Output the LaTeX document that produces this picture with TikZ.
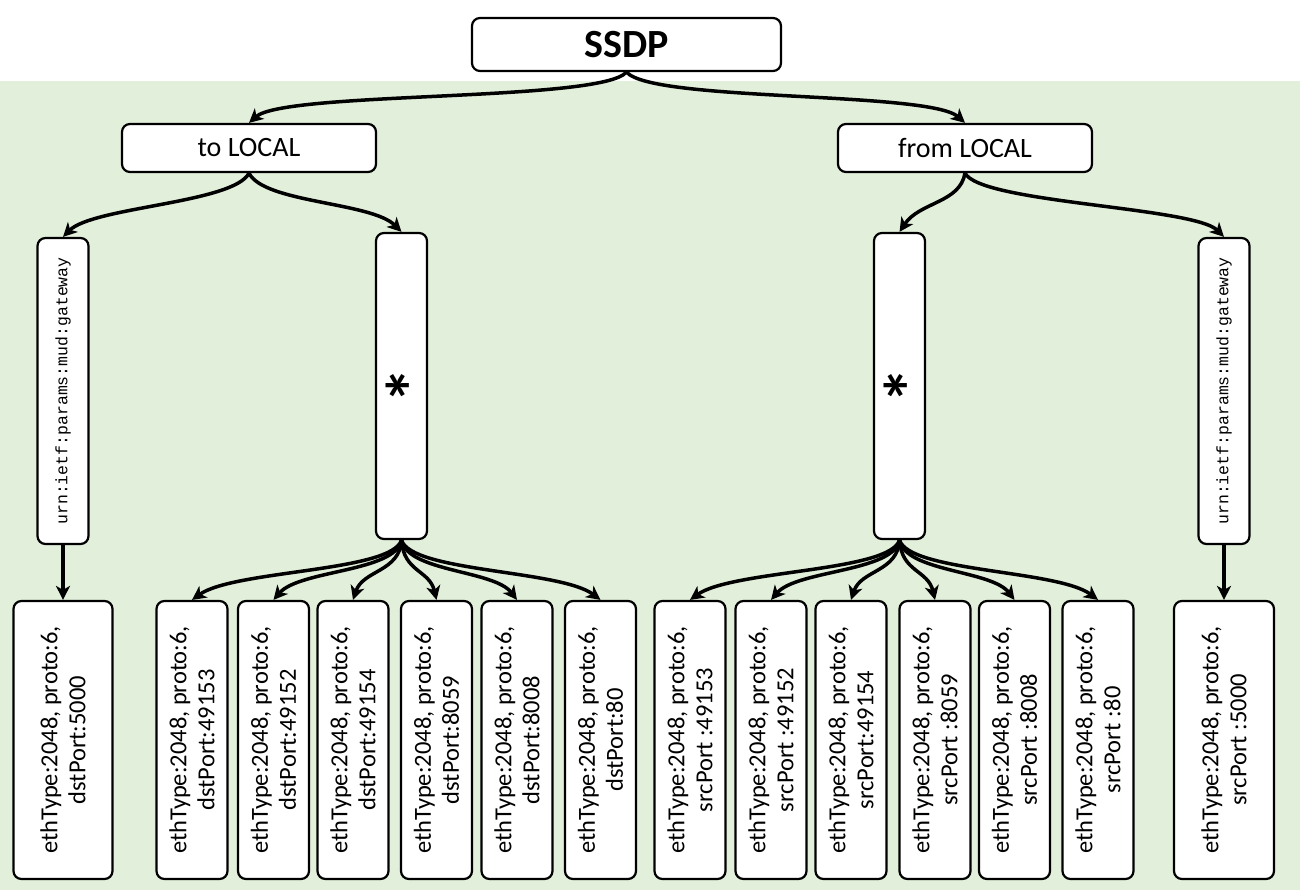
\documentclass[tikz,border=0pt]{standalone}
\usepackage{fontspec}
\setmainfont{Carlito}
\newfontfamily\gwfont{Liberation Mono}
\usetikzlibrary{arrows.meta}
\definecolor{bggreen}{RGB}{226,239,218}
\newcommand{\gwlabel}{{\fontsize{16.5}{18}\gwfont urn:ietf:params:mud:gateway}}
\newcommand{\starlabel}{\raisebox{-20pt}[32pt][0pt]{*}}
\begin{document}
\begin{tikzpicture}[x=1pt,y=-1pt,
  box/.style={draw=black, line width=2.2pt, fill=white, rounded corners=8pt, inner sep=2pt, align=center},
  leaf/.style={box, rotate=90, minimum width=278pt, minimum height=71pt, font=\fontsize{24.5}{28}\selectfont},
  tall/.style={box, rotate=90, minimum width=306pt, minimum height=51pt},
  startext/.style={font=\fontsize{72}{74}\selectfont\bfseries},
  arr/.style={line width=3.5pt, -{Stealth[length=14pt,width=14pt,inset=4pt]}}
]
\useasboundingbox (0,0) rectangle (1300,890);
\fill[bggreen] (0,81) rectangle (1300,890);

\node[box, minimum width=309pt, minimum height=53pt, font=\fontsize{40}{44}\selectfont\bfseries] (ssdp) at (626.5,44.5) {SSDP};
\node[box, minimum width=254pt, minimum height=48pt, font=\fontsize{28}{32}\selectfont] (toL) at (249,148) {to LOCAL};
\node[box, minimum width=254pt, minimum height=48pt, font=\fontsize{28}{32}\selectfont] (fromL) at (965,148) {from LOCAL};

\node[tall] (gwL) at (63,391) {\gwlabel};
\node[tall, startext] (starL) at (401.5,386) {\starlabel};
\node[tall, startext] (starR) at (899.5,386) {\starlabel};
\node[tall] (gwR) at (1224,391) {\gwlabel};

\node[leaf, minimum height=99pt] (l0) at (63,740) {ethType:2048, proto:6,\\dstPort:5000};
\node[leaf] (c1) at (192,740) {ethType:2048, proto:6,\\dstPort:49153};
\node[leaf] (c2) at (273.5,740) {ethType:2048, proto:6,\\dstPort:49152};
\node[leaf] (c3) at (353,740) {ethType:2048, proto:6,\\dstPort:49154};
\node[leaf] (c4) at (436.5,740) {ethType:2048, proto:6,\\dstPort:8059};
\node[leaf] (c5) at (517,740) {ethType:2048, proto:6,\\dstPort:8008};
\node[leaf] (c6) at (600.5,740) {ethType:2048, proto:6,\\dstPort:80};

\node[leaf] (d1) at (690,740) {ethType:2048, proto:6,\\srcPort :49153};
\node[leaf] (d2) at (771,740) {ethType:2048, proto:6,\\srcPort :49152};
\node[leaf] (d3) at (851,740) {ethType:2048, proto:6,\\srcPort:49154};
\node[leaf] (d4) at (935,740) {ethType:2048, proto:6,\\srcPort :8059};
\node[leaf] (d5) at (1014.5,740) {ethType:2048, proto:6,\\srcPort :8008};
\node[leaf] (d6) at (1098,740) {ethType:2048, proto:6,\\srcPort :80};
\node[leaf, minimum height=100pt] (r0) at (1224,740) {ethType:2048, proto:6,\\srcPort :5000};

\draw[arr] (ssdp.south) .. controls +(-26,30) and +(36,-32) .. (toL.north);
\draw[arr] (ssdp.south) .. controls +(26,30) and +(-36,-32) .. (fromL.north);
\draw[arr] (toL.south) .. controls +(-15,30) and +(30,-30) .. (gwL.east);
\draw[arr] (toL.south) .. controls +(15,30) and +(-30,-30) .. (starL.east);
\draw[arr] (fromL.south) .. controls +(-5,30) and +(20,-30) .. (starR.east);
\draw[arr] (fromL.south) .. controls +(15,30) and +(-30,-30) .. (gwR.east);
\draw[arr] (gwL.west) -- (l0.east);
\draw[arr] (gwR.west) -- (r0.east);

\foreach \n/\ax/\bx in {c1/-10/42, c2/-6/26, c3/-2/10, c4/2/-7, c5/6/-23, c6/10/-40}
  \draw[arr] (starL.west) .. controls +(\ax,32) and +(\bx,-30) .. (\n.east);
\foreach \n/\ax/\bx in {d1/-10/42, d2/-6/26, d3/-2/10, d4/2/-7, d5/6/-23, d6/10/-40}
  \draw[arr] (starR.west) .. controls +(\ax,32) and +(\bx,-30) .. (\n.east);
\end{tikzpicture}
\end{document}
